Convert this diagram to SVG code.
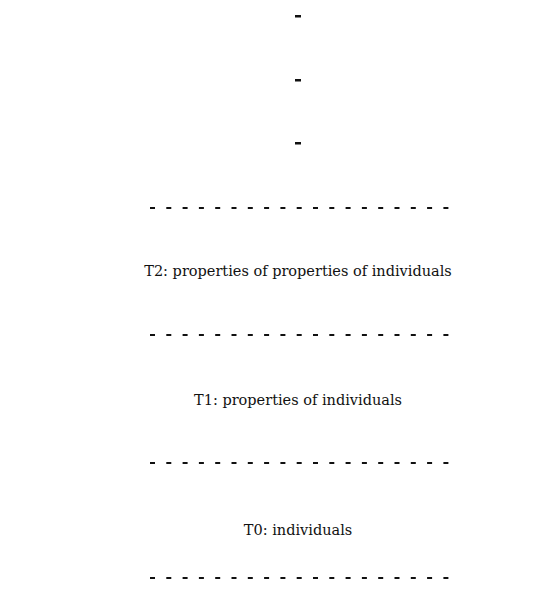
<svg xmlns="http://www.w3.org/2000/svg" width="535" height="590" viewBox="0 0 535 590">
  <style>
    .lbl { font-family: "DejaVu Serif", "Liberation Serif", serif; font-size: 14.5px; fill: #111; text-anchor: middle; }
    .sep { stroke: #111; stroke-width: 2.2; stroke-dasharray: 5 11.3; fill: none; }
    .dot { fill: #111; }
  </style>
  <rect width="535" height="590" fill="#fff"/>

  <!-- vertical ellipsis: higher types continue upward -->
  <g id="ellipsis">
    <rect class="dot" x="295" y="15" width="6" height="2.5"/>
    <rect class="dot" x="295" y="79" width="6" height="2.5"/>
    <rect class="dot" x="295" y="142" width="6" height="2.5"/>
  </g>

  <!-- dashed separators between type levels (19 dashes each) -->
  <g id="separators">
    <line class="sep" x1="150" y1="208" x2="449" y2="208"/>
    <line class="sep" x1="150" y1="335" x2="449" y2="335"/>
    <line class="sep" x1="150" y1="463" x2="449" y2="463"/>
    <line class="sep" x1="150" y1="578" x2="449" y2="578"/>
  </g>

  <g id="t2">
    <text class="lbl" x="298" y="276">T2: properties of properties of individuals</text>
  </g>
  <g id="t1">
    <text class="lbl" x="298" y="405">T1: properties of individuals</text>
  </g>
  <g id="t0">
    <text class="lbl" x="298" y="535">T0: individuals</text>
  </g>
</svg>
